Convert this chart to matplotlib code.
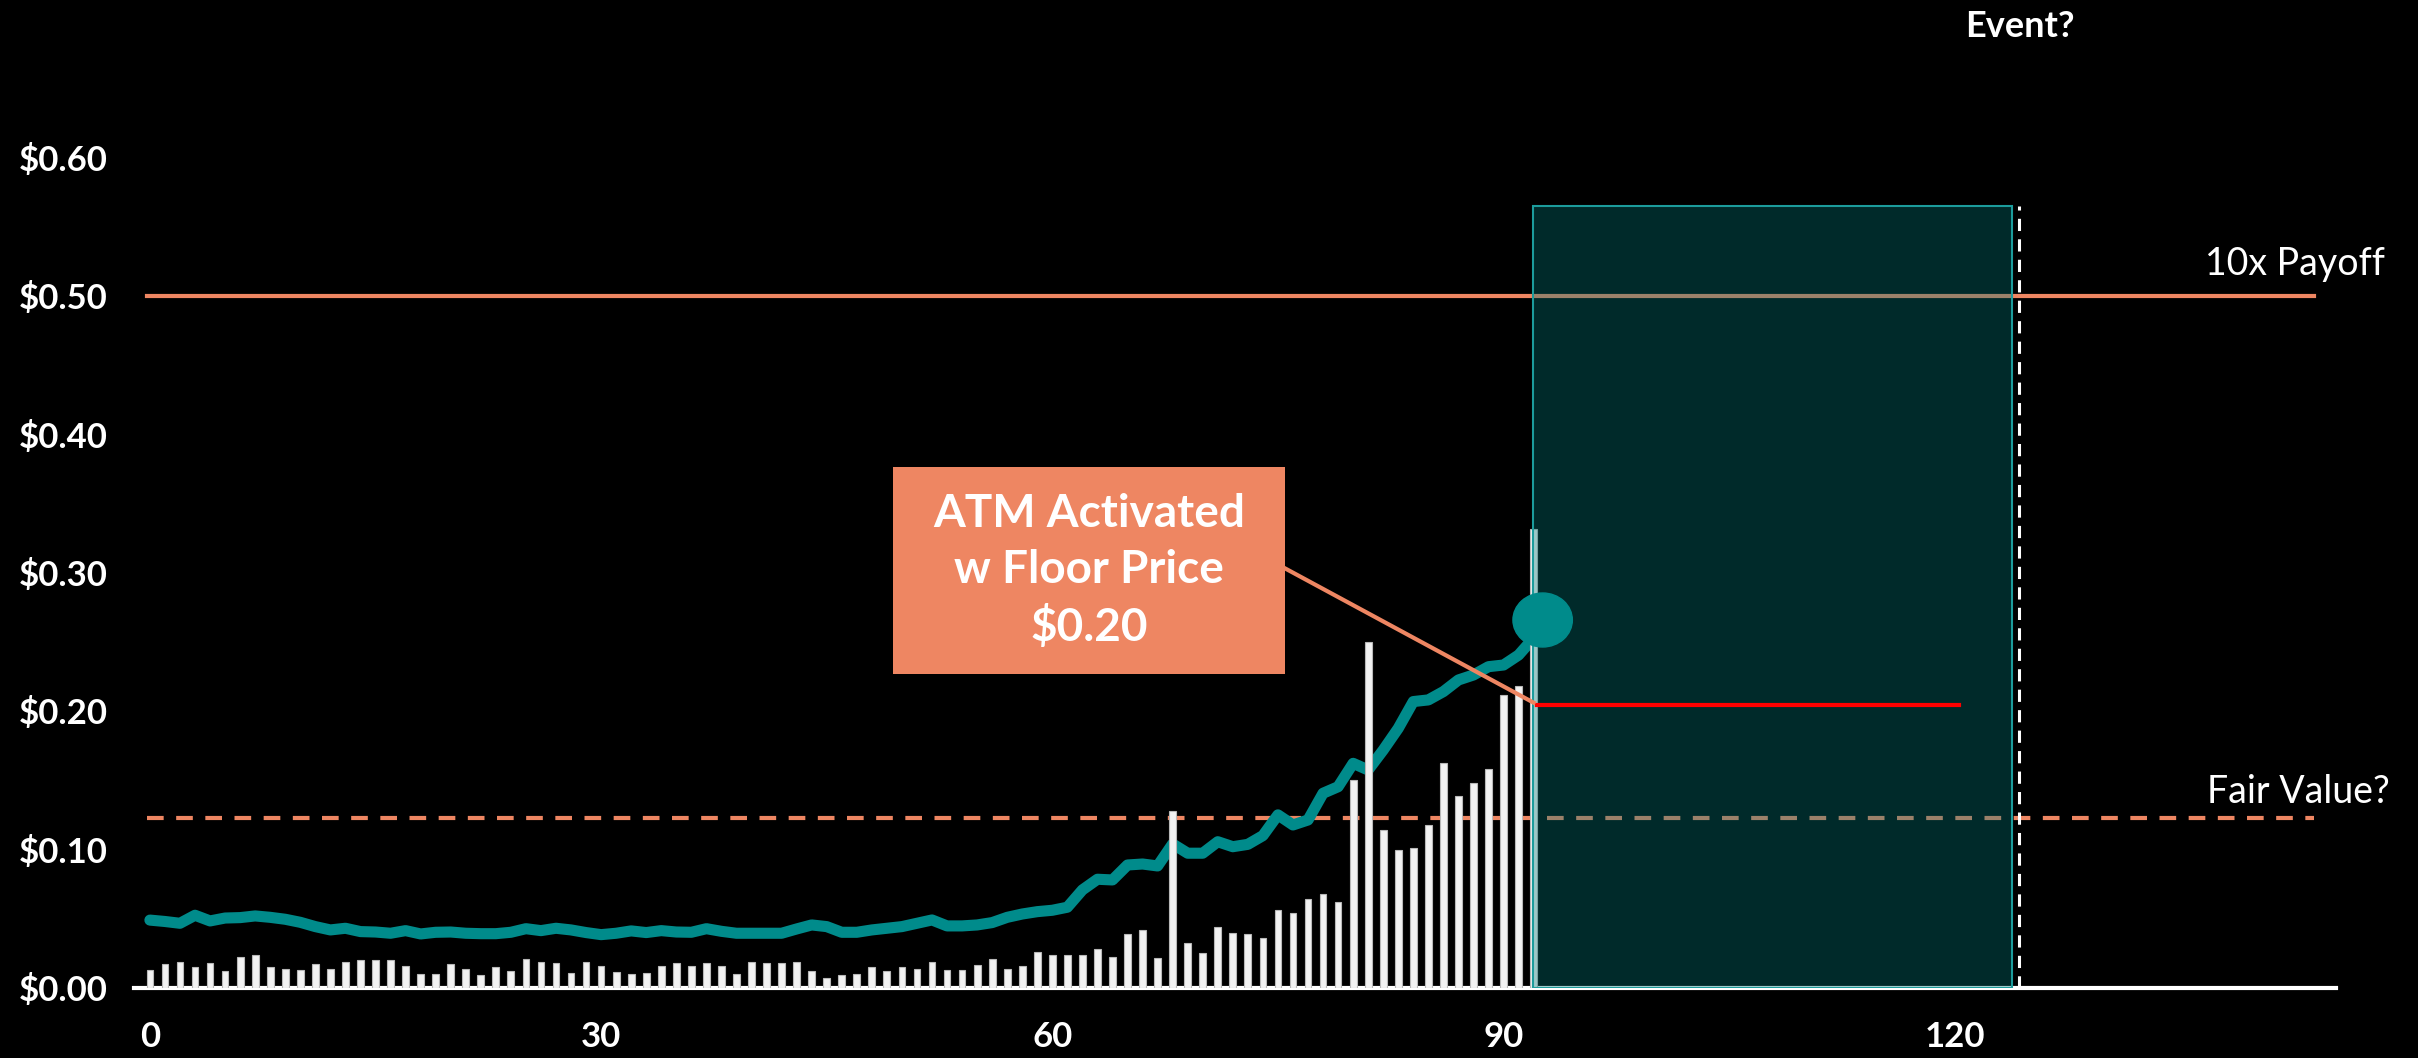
import numpy as np
import matplotlib.pyplot as plt
from matplotlib.patches import Rectangle, Ellipse
from matplotlib.ticker import FuncFormatter

plt.rcParams['font.family'] = ['Lato', 'DejaVu Sans']

# daily volume (white bars), one per day 0..92
volume = [
    0.013, 0.017, 0.019, 0.015, 0.018, 0.0125, 0.022, 0.024, 0.015, 0.014,
    0.013, 0.017, 0.014, 0.019, 0.020, 0.020, 0.020, 0.016, 0.010, 0.010,
    0.017, 0.014, 0.0095, 0.015, 0.012, 0.021, 0.019, 0.018, 0.011, 0.0185,
    0.0155, 0.0115, 0.010, 0.0105, 0.016, 0.018, 0.016, 0.018, 0.016, 0.010,
    0.019, 0.018, 0.018, 0.019, 0.012, 0.0075, 0.0095, 0.010, 0.015, 0.0125,
    0.015, 0.014, 0.019, 0.013, 0.013, 0.0166, 0.021, 0.0137, 0.016, 0.026,
    0.024, 0.024, 0.024, 0.028, 0.022, 0.0387, 0.0416, 0.0214, 0.128, 0.0325,
    0.0253, 0.0443, 0.0395, 0.0387, 0.0359, 0.0563, 0.0542, 0.0645, 0.0681, 0.0623,
    0.150, 0.2496, 0.1143, 0.0999, 0.1011, 0.118, 0.1625, 0.1389, 0.148, 0.158,
    0.2118, 0.2178, 0.3314,
]

# share price (teal line)
price = [
    0.049, 0.048, 0.0467, 0.0525, 0.0484, 0.0505, 0.0508, 0.052, 0.051, 0.0496,
    0.0474, 0.0443, 0.0419, 0.0431, 0.0407, 0.0404, 0.0395, 0.0414, 0.039, 0.0402,
    0.0404, 0.0395, 0.0392, 0.0392, 0.0402, 0.0428, 0.0414, 0.0431, 0.0419, 0.040,
    0.0385, 0.0395, 0.0412, 0.040, 0.0414, 0.0404, 0.0402, 0.0428, 0.0409, 0.0395,
    0.0395, 0.0395, 0.0395, 0.0426, 0.0455, 0.0443, 0.0402, 0.0402, 0.0419, 0.0431,
    0.0443, 0.0467, 0.0491, 0.0448, 0.0448, 0.0455, 0.0472, 0.051, 0.0534, 0.0551,
    0.0561, 0.0583, 0.0708, 0.0785, 0.078, 0.0888, 0.0895, 0.0881, 0.104, 0.0973,
    0.0973, 0.1056, 0.102, 0.1037, 0.110, 0.125, 0.1177, 0.1213, 0.1406, 0.1453,
    0.1622, 0.1574, 0.1718, 0.1875, 0.2068, 0.208, 0.214, 0.2224, 0.226, 0.232,
    0.2332, 0.2404, 0.2527,
]
days = list(range(len(price)))

fair_value = 0.1225
payoff_10x = 0.50
floor_price = 0.204
window_start, window_end, window_top = 91.95, 123.8, 0.565
event_day = 124.3
last_x, last_y = 92.6, 0.2657

teal = '#008B8B'
salmon = '#EE8662'

fig = plt.figure(figsize=(24.18, 10.58), dpi=100, facecolor='black')
ax = fig.add_axes([0.0554, 0.0662, 0.9107, 0.9338])
ax.set_facecolor('black')
ax.set_xlim(-1.06, 145.35)
ax.set_ylim(0, 0.7134)

# reference lines
ax.plot([-0.2, 143.9], [payoff_10x, payoff_10x], color=salmon, lw=3, zorder=1)
ax.plot([-0.2, 143.9], [fair_value, fair_value], color=salmon, lw=3,
        ls=(0, (4, 3)), zorder=1)

ax.plot(days, price, color=teal, lw=8, solid_capstyle='round',
        solid_joinstyle='round', zorder=2)
ax.bar(days, volume, width=0.45, color='#F2F2F2', edgecolor='#B8B8B8',
       linewidth=0.8, zorder=3)

# event window
ax.add_patch(Rectangle((window_start, 0), window_end - window_start, window_top,
                       facecolor=(0, 0.478, 0.478, 0.35), edgecolor='#1C9C9C',
                       lw=1.5, zorder=4))
ax.plot([event_day, event_day], [0, window_top], color='white', lw=2.2,
        ls=(0, (4, 2.7)), zorder=5)
ax.plot([92.2, 120.3], [floor_price, floor_price], color='#FF0000', lw=3, zorder=6)
ax.add_patch(Ellipse((last_x, last_y), 3.95, 0.039, color=teal, zorder=6))

# callout
ax.plot([75.47, 92.0], [0.303, 0.206], color=salmon, lw=3, zorder=6)
ax.add_patch(Rectangle((49.4, 0.2267), 26.1, 0.1493, facecolor=salmon, zorder=7))
ax.text(62.45, 0.301, 'ATM Activated\nw Floor Price\n$0.20', ha='center',
        va='center', color='white', fontsize=33, fontweight='bold',
        linespacing=1.39, zorder=8)

ax.text(event_day, 0.6946, 'Event?', ha='center', va='center', color='white',
        fontsize=26, fontweight='bold', clip_on=False)
ax.text(148.6, 0.5148, '10x Payoff', ha='right', va='baseline', color='white',
        fontsize=27, fontweight='normal', clip_on=False)
ax.text(148.9, 0.1336, 'Fair Value?', ha='right', va='baseline', color='white',
        fontsize=27, fontweight='normal', clip_on=False)

ax.set_xticks([0, 30, 60, 90, 120])
ax.set_yticks(np.arange(0, 0.61, 0.1))
ax.yaxis.set_major_formatter(FuncFormatter(lambda v, p: f'${v:.2f}'))
ax.tick_params(axis='both', length=0, colors='white', labelsize=25)
ax.tick_params(axis='y', pad=19)
ax.tick_params(axis='x', pad=24)
for lbl in ax.get_xticklabels() + ax.get_yticklabels():
    lbl.set_fontweight('bold')

for side in ['top', 'right', 'left']:
    ax.spines[side].set_visible(False)
ax.spines['bottom'].set_color('white')
ax.spines['bottom'].set_linewidth(3)

fig.savefig('out.png', dpi=100, facecolor='black')
